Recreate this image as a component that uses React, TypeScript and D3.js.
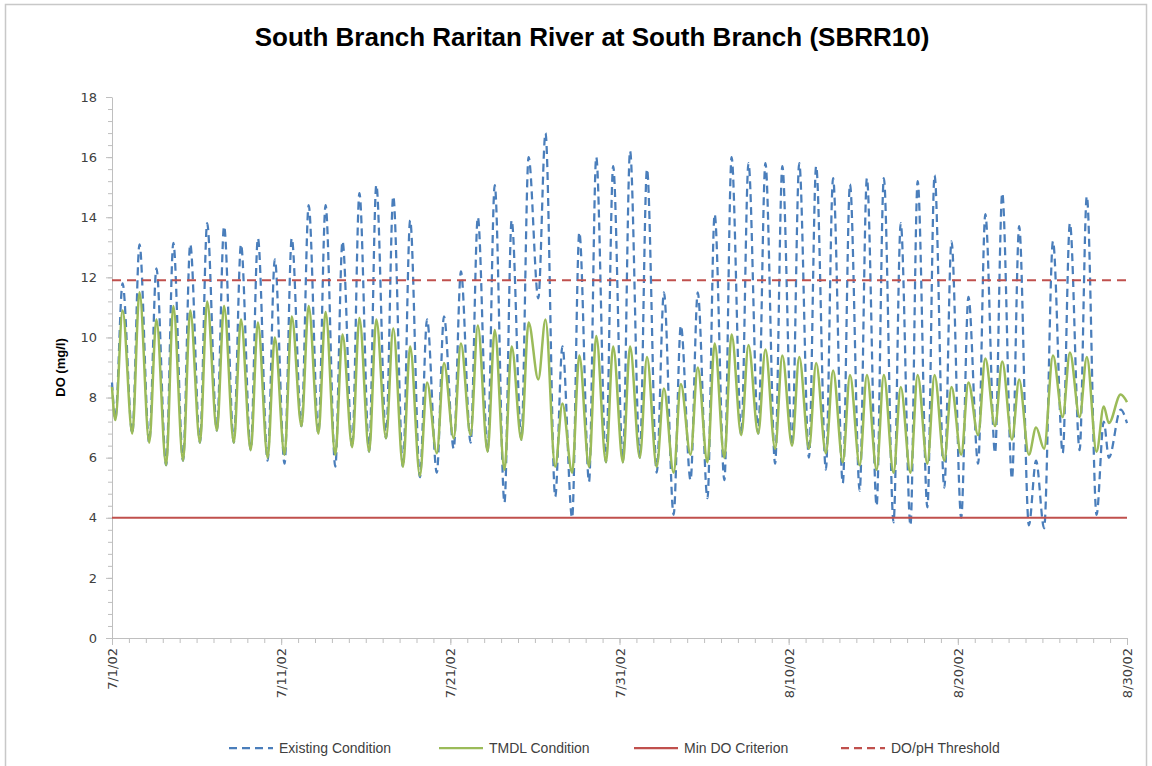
import React, { useEffect, useRef } from "react";
import * as d3 from "d3";

// Daily extremes of dissolved oxygen (mg/l), one value per day from 7/1/02 to 8/29/02
const existingMin = [
  7.3, 6.8, 6.5, 5.75, 5.9, 6.5, 6.9, 6.5, 6.25, 5.9,
  5.8, 7.05, 6.8, 5.7, 6.35, 6.2, 6.65, 5.7, 5.35, 5.5,
  6.3, 6.5, 6.2, 4.5, 6.6, 11.3, 4.7, 4.0, 5.2, 5.85,
  5.85, 6.0, 5.5, 4.1, 5.25, 4.65, 5.25, 6.75, 6.8, 5.8,
  6.4, 6.0, 5.6, 5.15, 4.9, 4.4, 3.85, 3.75, 4.35, 5.0,
  4.0, 5.8, 6.15, 5.3, 3.75, 3.65, 6.15, 6.25, 4.1, 6.0,
];
const existingMax = [
  11.8, 13.1, 12.3, 13.15, 13.1, 13.8, 13.7, 13.1, 13.3, 12.6,
  13.3, 14.4, 14.4, 13.2, 14.8, 15.07, 14.7, 13.9, 10.6, 10.7,
  12.2, 14.0, 15.07, 13.9, 16.0, 16.8, 9.7, 13.5, 16.0, 15.7,
  16.2, 15.6, 11.5, 10.4, 11.5, 14.1, 16.0, 15.8, 15.8, 15.7,
  15.8, 15.7, 15.3, 15.1, 15.3, 15.3, 13.8, 15.2, 15.4, 13.2,
  11.35, 14.1, 14.8, 13.7, 5.9, 13.2, 13.8, 14.7, 7.2, 7.6,
];
const tmdlMin = [
  7.25, 6.8, 6.5, 5.75, 5.9, 6.5, 6.9, 6.5, 6.25, 6.0,
  6.1, 7.05, 6.8, 6.1, 6.35, 6.2, 6.65, 5.7, 5.4, 6.15,
  6.65, 6.75, 6.2, 5.6, 6.6, 8.6, 5.7, 5.5, 5.7, 5.85,
  5.85, 6.0, 5.7, 5.5, 6.1, 5.85, 6.0, 6.75, 6.8, 6.3,
  6.4, 6.3, 6.15, 5.85, 5.75, 5.6, 5.5, 5.5, 5.8, 5.9,
  6.1, 6.75, 7.05, 6.6, 6.1, 6.3, 7.35, 7.35, 6.2, 7.15,
];
const tmdlMax = [
  10.9, 11.5, 10.6, 11.05, 10.9, 11.2, 11.05, 10.6, 10.5, 10.0,
  10.7, 11.05, 10.85, 10.1, 10.65, 10.6, 10.3, 9.7, 8.5, 9.15,
  9.8, 10.4, 10.25, 9.7, 10.5, 10.6, 7.8, 9.4, 10.05, 9.7,
  9.7, 9.35, 8.3, 8.45, 9.0, 9.8, 10.1, 9.75, 9.6, 9.4,
  9.35, 9.15, 8.9, 8.75, 8.75, 8.75, 8.35, 8.75, 8.75, 8.35,
  8.5, 9.3, 9.2, 8.6, 7.0, 9.4, 9.5, 9.35, 7.7, 8.1,
];
// values at 7/1/02 00:00 and 8/30/02 00:00
const existingEnds = [8.5, 7.15];
const tmdlEnds = [8.35, 7.85];

// hour of day of the daily low and high, with a few days shifted
const troughHour = 4.8;
const peakHour = 15;
const troughShift: Record<number, number> = { 55: -2.4, 59: -6.5 };

const minDO = 4.0;
const threshold = 11.9;

const xTickLabels = ["7/1/02", "7/11/02", "7/21/02", "7/31/02", "8/10/02", "8/20/02", "8/30/02"];
const yTicks = [0, 2, 4, 6, 8, 10, 12, 14, 16, 18];

const legendItems = [
  { label: "Existing Condition", color: "#4a7ebb", dash: "8,5" },
  { label: "TMDL Condition", color: "#9bbb59", dash: null },
  { label: "Min DO Criterion", color: "#c0504d", dash: null },
  { label: "DO/pH Threshold", color: "#c0504d", dash: "8,5" },
];

const startDate = new Date(2002, 6, 1);
const endDate = new Date(2002, 7, 30);

interface Pt {
  t: Date;
  v: number;
}

function buildSeries(mins: number[], maxs: number[], ends: number[]): Pt[] {
  const at = (d: number, h: number) =>
    d3.timeMinute.offset(d3.timeDay.offset(startDate, d), Math.round(h * 60));
  const pts: Pt[] = [{ t: startDate, v: ends[0] }];
  mins.forEach((m, i) => {
    pts.push({ t: at(i, troughHour + (troughShift[i] || 0)), v: m });
    pts.push({ t: at(i, peakHour), v: maxs[i] });
  });
  pts.push({ t: endDate, v: ends[1] });
  return pts;
}

const App: React.FC = () => {
  const svgRef = useRef<SVGSVGElement>(null);

  useEffect(() => {
    if (!svgRef.current) return;
    const svg = d3.select(svgRef.current);
    svg.selectAll("*").remove();

    const width = 1152;
    const height = 766;
    const plot = { left: 112, right: 1127, top: 97, bottom: 638 };
    const axisColor = "#bfbfbf";
    const textColor = "#404040";

    svg.attr("width", width).attr("height", height).style("background", "#fff");

    // chart frame
    svg
      .append("rect")
      .attr("x", 5.5)
      .attr("y", 4.5)
      .attr("width", 1141)
      .attr("height", 800)
      .attr("fill", "none")
      .attr("stroke", "#c8c8c8")
      .attr("stroke-width", 1.5);

    const x = d3.scaleTime().domain([startDate, endDate]).range([plot.left, plot.right]);
    const y = d3.scaleLinear().domain([0, 18]).range([plot.bottom, plot.top]);

    // title
    svg
      .append("text")
      .attr("x", 592)
      .attr("y", 46)
      .attr("text-anchor", "middle")
      .attr("font-family", "Liberation Sans, Arial, sans-serif")
      .attr("font-weight", "bold")
      .attr("font-size", 26)
      .attr("fill", "#000")
      .text("South Branch Raritan River at South Branch (SBRR10)");

    // y axis: minor then major
    const yMinor = svg
      .append("g")
      .attr("transform", `translate(${plot.left},0)`)
      .call(
        d3
          .axisLeft(y)
          .tickValues(d3.range(0, 18.01, 0.4))
          .tickSize(4)
          .tickFormat(() => "")
      );
    yMinor.select(".domain").remove();
    yMinor.selectAll("line").attr("stroke", axisColor);

    const yAxis = svg
      .append("g")
      .attr("transform", `translate(${plot.left},0)`)
      .call(d3.axisLeft(y).tickValues(yTicks).tickSize(6).tickSizeOuter(0).tickPadding(9));
    yAxis.select(".domain").attr("stroke", axisColor);
    yAxis.selectAll("line").attr("stroke", axisColor);
    yAxis
      .selectAll("text")
      .attr("font-family", "DejaVu Sans, Verdana, sans-serif")
      .attr("font-size", 13)
      .attr("fill", textColor);

    svg
      .append("text")
      .attr("transform", `translate(65,${(plot.top + plot.bottom) / 2}) rotate(-90)`)
      .attr("text-anchor", "middle")
      .attr("font-family", "Liberation Sans, Arial, sans-serif")
      .attr("font-weight", "bold")
      .attr("font-size", 13)
      .attr("fill", "#000")
      .text("DO (mg/l)");

    // x axis: daily minor ticks, 10-day labelled ticks
    const xMinor = svg
      .append("g")
      .attr("transform", `translate(0,${plot.bottom})`)
      .call(
        d3
          .axisBottom(x)
          .tickValues(d3.timeDay.range(startDate, d3.timeDay.offset(endDate, 1)))
          .tickSize(5)
          .tickFormat(() => "")
      );
    xMinor.select(".domain").remove();
    xMinor.selectAll("line").attr("stroke", axisColor);

    const majorDates = xTickLabels.map((_, i) => d3.timeDay.offset(startDate, i * 10));
    const xAxis = svg
      .append("g")
      .attr("transform", `translate(0,${plot.bottom})`)
      .call(
        d3
          .axisBottom(x)
          .tickValues(majorDates)
          .tickSize(7)
          .tickSizeOuter(0)
          .tickFormat((_, i) => xTickLabels[i])
      );
    xAxis.select(".domain").attr("stroke", axisColor);
    xAxis.selectAll("line").attr("stroke", axisColor);
    xAxis
      .selectAll("text")
      .attr("font-family", "DejaVu Sans, Verdana, sans-serif")
      .attr("font-size", 13)
      .attr("fill", textColor)
      .attr("text-anchor", "end")
      .attr("transform", "rotate(-90)")
      .attr("x", -10)
      .attr("y", 0)
      .attr("dy", "0.35em");

    // series
    const line = d3
      .line<Pt>()
      .x((d) => x(d.t))
      .y((d) => y(d.v))
      .curve(d3.curveMonotoneX);

    svg
      .append("path")
      .datum(buildSeries(existingMin, existingMax, existingEnds))
      .attr("d", line)
      .attr("fill", "none")
      .attr("stroke", "#4a7ebb")
      .attr("stroke-width", 2.25)
      .attr("stroke-dasharray", "8,5");

    svg
      .append("path")
      .datum(buildSeries(tmdlMin, tmdlMax, tmdlEnds))
      .attr("d", line)
      .attr("fill", "none")
      .attr("stroke", "#9bbb59")
      .attr("stroke-width", 2.5);

    svg
      .append("line")
      .attr("x1", plot.left)
      .attr("x2", plot.right)
      .attr("y1", y(minDO))
      .attr("y2", y(minDO))
      .attr("stroke", "#c0504d")
      .attr("stroke-width", 2);

    svg
      .append("line")
      .attr("x1", plot.left)
      .attr("x2", plot.right)
      .attr("y1", y(threshold))
      .attr("y2", y(threshold))
      .attr("stroke", "#c0504d")
      .attr("stroke-width", 2)
      .attr("stroke-dasharray", "9,6");

    // legend
    const legendX = [229, 439, 634, 841];
    const legend = svg.append("g").attr("transform", "translate(0,748)");
    legendItems.forEach((item, i) => {
      const g = legend.append("g").attr("transform", `translate(${legendX[i]},0)`);
      g.append("line")
        .attr("x1", 0)
        .attr("x2", 44)
        .attr("y1", 0)
        .attr("y2", 0)
        .attr("stroke", item.color)
        .attr("stroke-width", 2.25)
        .attr("stroke-dasharray", item.dash ?? null);
      g.append("text")
        .attr("x", 50)
        .attr("y", 0)
        .attr("dy", "0.35em")
        .attr("font-family", "Liberation Sans, Arial, sans-serif")
        .attr("font-size", 14)
        .attr("fill", textColor)
        .text(item.label);
    });
  }, []);

  return <svg ref={svgRef} style={{ position: "absolute", left: 0, top: 0 }} />;
};

export default App;
